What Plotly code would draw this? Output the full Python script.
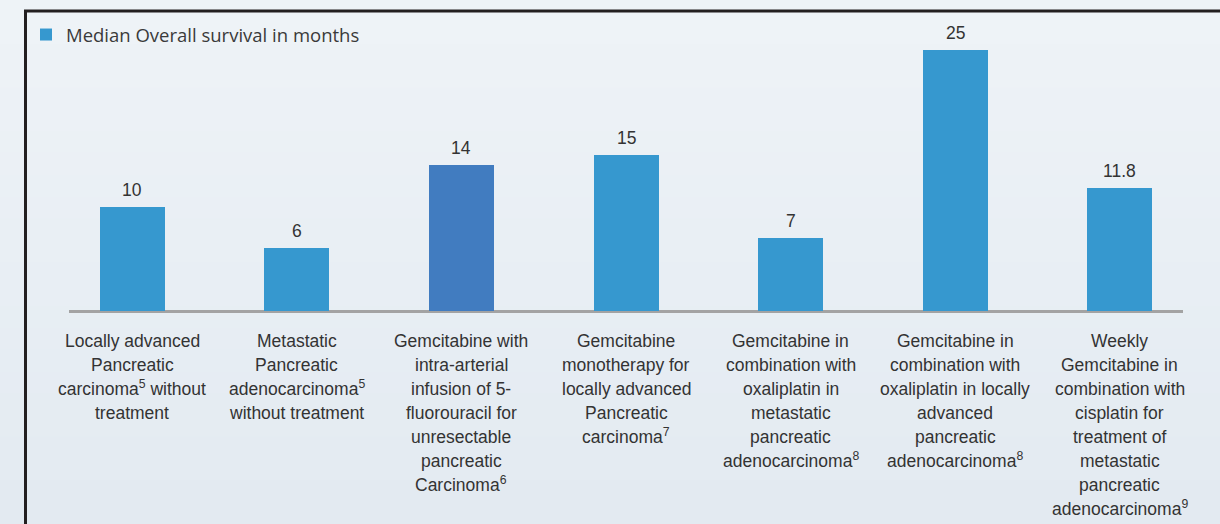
import plotly.graph_objects as go

# ---- data ----
categories = [
    "Locally advanced<br>Pancreatic<br>carcinoma<sup>5</sup> without<br>treatment",
    "Metastatic<br>Pancreatic<br>adenocarcinoma<sup>5</sup><br>without treatment",
    "Gemcitabine with<br>intra-arterial<br>infusion of 5-<br>fluorouracil for<br>unresectable<br>pancreatic<br>Carcinoma<sup>6</sup>",
    "Gemcitabine<br>monotherapy for<br>locally advanced<br>Pancreatic<br>carcinoma<sup>7</sup>",
    "Gemcitabine in<br>combination with<br>oxaliplatin in<br>metastatic<br>pancreatic<br>adenocarcinoma<sup>8</sup>",
    "Gemcitabine in<br>combination with<br>oxaliplatin in locally<br>advanced<br>pancreatic<br>adenocarcinoma<sup>8</sup>",
    "Weekly<br>Gemcitabine in<br>combination with<br>cisplatin for<br>treatment of<br>metastatic<br>pancreatic<br>adenocarcinoma<sup>9</sup>",
]
survival_months = [10, 6, 14, 15, 7, 25, 11.8]
series_name = "Median Overall survival in months"

# ---- style ----
W, H = 1220, 524
L, R, T, B = 69, 37, 19, 213
LIGHT = "#3698cf"
DARK = "#417cc0"
bar_colors = [LIGHT, LIGHT, DARK, LIGHT, LIGHT, LIGHT, LIGHT]
LABEL_FONT = "Liberation Sans, Arial, sans-serif"
LABEL_SIZE = 17.5
TEXT_COLOR = "#333333"

pw = W - L - R
ph = H - T - B
def px_x(p):
    return (p - L) / pw
def px_y(p):
    return (H - B - p) / ph

x_idx = list(range(len(categories)))

fig = go.Figure()
fig.add_trace(go.Bar(
    x=x_idx, y=survival_months, name=series_name,
    marker=dict(color=bar_colors, line=dict(width=0)),
    width=0.395, showlegend=True, hoverinfo="y",
))

annotations = []
# value labels above bars
for i, v in enumerate(survival_months):
    annotations.append(dict(
        x=i, y=v, xref="x", yref="y", text=str(v), showarrow=False,
        xanchor="center", yanchor="bottom", yshift=5,
        font=dict(family=LABEL_FONT, size=17.5, color=TEXT_COLOR),
    ))
# category labels, one annotation per line for tight line spacing
for i, lab in enumerate(categories):
    for j, line in enumerate(lab.split("<br>")):
        annotations.append(dict(
            x=i, y=0, xref="x", yref="y", text=line, showarrow=False,
            xanchor="center", yanchor="bottom", yshift=-(353 + 24 * j - 311),
            font=dict(family=LABEL_FONT, size=LABEL_SIZE, color=TEXT_COLOR),
        ))

# background gradient bands + frame
shapes = []
top_c = (238, 243, 247)
bot_c = (227, 234, 241)
n = 24
for k in range(n):
    t = k / (n - 1)
    c = tuple(round(top_c[m] + (bot_c[m] - top_c[m]) * t) for m in range(3))
    shapes.append(dict(type="rect", xref="paper", yref="paper",
                       x0=px_x(0), x1=px_x(W),
                       y0=px_y(H * (k + 1) / n + 1), y1=px_y(H * k / n),
                       fillcolor="rgb(%d,%d,%d)" % c, line=dict(width=0), layer="below"))

shapes.append(dict(type="line", xref="paper", yref="paper",
                   x0=px_x(24), x1=px_x(1222), y0=px_y(11), y1=px_y(11),
                   line=dict(color="#231f20", width=3), layer="above"))
shapes.append(dict(type="line", xref="paper", yref="paper",
                   x0=px_x(25.5), x1=px_x(25.5), y0=px_y(10), y1=px_y(526),
                   line=dict(color="#231f20", width=3), layer="above"))

fig.update_layout(
    width=W, height=H,
    margin=dict(l=L, r=R, t=T, b=B, pad=0, autoexpand=False),
    paper_bgcolor="#e9eff4", plot_bgcolor="rgba(0,0,0,0)",
    bargap=0,
    xaxis=dict(range=[-0.385, 6.385], showticklabels=False, ticks="",
               showgrid=False, zeroline=False, showline=False, fixedrange=True),
    yaxis=dict(range=[0, 28], showticklabels=False, ticks="", showgrid=False,
               zeroline=True, zerolinecolor="#a3a3a3", zerolinewidth=3,
               showline=False, fixedrange=True),
    showlegend=True,
    legend=dict(x=px_x(26), y=px_y(16),
                xanchor="left", yanchor="top", bgcolor="rgba(0,0,0,0)",
                font=dict(family="Open Sans, sans-serif", size=18.5, color="#3a3a3a")),
    annotations=annotations,
    shapes=shapes,
)

fig.write_html("out.html", config={"displayModeBar": False},
               post_script="document.body.style.margin='0';")
